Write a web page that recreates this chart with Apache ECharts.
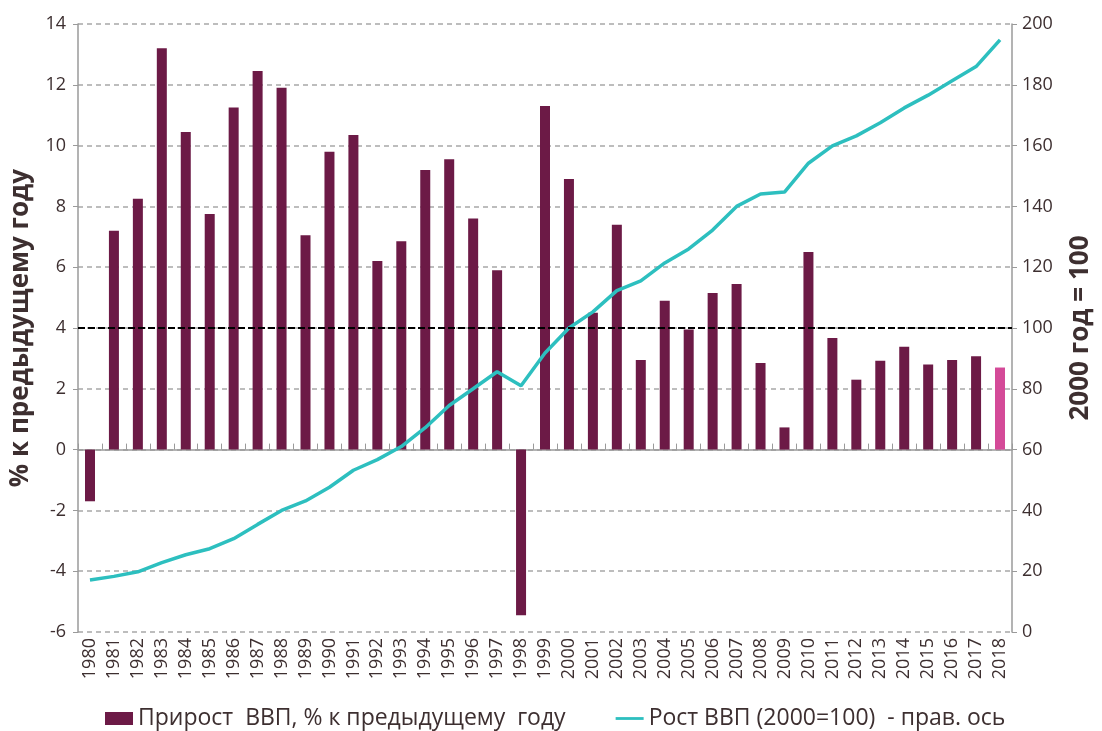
<!DOCTYPE html>
<html>
<head>
<meta charset="utf-8">
<script src="https://cdn.jsdelivr.net/npm/echarts@6/dist/echarts.min.js"></script>
<style>
  html, body { margin: 0; padding: 0; background: #fff; }
  #chart { width: 1102px; height: 731px; }
</style>
</head>
<body>
<div id="chart"></div>
<script>
// годы
const years = ['1980', '1981', '1982', '1983', '1984', '1985', '1986', '1987', '1988', '1989',
  '1990', '1991', '1992', '1993', '1994', '1995', '1996', '1997', '1998', '1999',
  '2000', '2001', '2002', '2003', '2004', '2005', '2006', '2007', '2008', '2009',
  '2010', '2011', '2012', '2013', '2014', '2015', '2016', '2017', '2018'];

// прирост ВВП, % к предыдущему году
const growth = [-1.7, 7.2, 8.25, 13.2, 10.45, 7.75, 11.25, 12.45, 11.9, 7.05,
  9.8, 10.35, 6.2, 6.85, 9.2, 9.55, 7.6, 5.9, -5.45, 11.3,
  8.9, 4.5, 7.4, 2.95, 4.9, 3.95, 5.15, 5.45, 2.85, 0.73,
  6.5, 3.67, 2.3, 2.92, 3.38, 2.8, 2.95, 3.07, 2.7];

// рост ВВП (2000=100)
const index2000 = [17.1, 18.3, 19.8, 22.8, 25.4, 27.4, 30.7, 35.4, 40.0, 43.1,
  47.6, 53.2, 56.7, 61.0, 67.2, 74.5, 80.0, 85.6, 81.0, 91.8,
  100, 105.3, 112.3, 115.5, 121.4, 126.0, 132.2, 140.0, 144.1, 144.7,
  154.2, 159.9, 163.2, 167.5, 172.4, 176.6, 181.3, 186.0, 194.8];

const leftTicks = { min: -6, max: 14, interval: 2 };
const rightTicks = { min: 0, max: 200, interval: 20 };

const textColor = '#3d2f30';
const font = 'Open Sans';

const myChart = echarts.init(document.getElementById('chart'));
myChart.setOption({
  animation: false,
  textStyle: { fontFamily: font },
  grid: { left: 73, right: 84, top: 24, bottom: 99, containLabel: false },
  legend: {
    bottom: -4,
    left: 100,
    itemGap: 50,
    itemWidth: 28,
    itemHeight: 13,
    textStyle: { fontSize: 23, color: textColor, fontFamily: font },
    data: [
      { name: 'Прирост  ВВП, % к предыдущему  году', icon: 'rect' },
      { name: 'Рост ВВП (2000=100)  - прав. ось', icon: 'path://M0 0H10V1H0Z' }
    ]
  },
  xAxis: [
    {
      type: 'category',
      data: years,
      position: 'bottom',
      axisLine: { show: false, onZero: false },
      axisTick: { show: false },
      axisLabel: { rotate: 90, interval: 0, fontSize: 18, color: textColor, margin: 6 }
    },
    {
      type: 'category',
      data: years,
      axisLine: { show: true, onZero: true, lineStyle: { color: '#9a9a9a', width: 1.5 } },
      axisTick: { show: true, interval: 0, length: 6, lineStyle: { color: '#9a9a9a' } },
      axisLabel: { show: false }
    }
  ],
  yAxis: [
    {
      type: 'value',
      min: leftTicks.min,
      max: leftTicks.max,
      interval: leftTicks.interval,
      name: '% к предыдущему году',
      nameLocation: 'middle',
      nameGap: 44,
      nameTextStyle: { fontSize: 26, fontWeight: 'bold', color: textColor, fontFamily: font },
      axisLine: { show: true, lineStyle: { color: '#9a9a9a', width: 1.5 } },
      axisTick: { show: true, length: 5, lineStyle: { color: '#9a9a9a' } },
      axisLabel: { fontSize: 18, color: textColor, margin: 12 },
      splitLine: { show: true, lineStyle: { color: '#a8a8a8', type: [5, 4], width: 1.5 } }
    },
    {
      type: 'value',
      min: rightTicks.min,
      max: rightTicks.max,
      interval: rightTicks.interval,
      name: '2000 год = 100',
      nameLocation: 'middle',
      nameGap: 56,
      nameTextStyle: { fontSize: 26, fontWeight: 'bold', color: textColor, fontFamily: font },
      axisLine: { show: true, lineStyle: { color: '#9a9a9a', width: 1.5 } },
      axisTick: { show: true, length: 5, lineStyle: { color: '#9a9a9a' } },
      axisLabel: { fontSize: 18, color: textColor, margin: 10 },
      splitLine: { show: false }
    }
  ],
  series: [
    {
      name: 'Прирост  ВВП, % к предыдущему  году',
      type: 'bar',
      xAxisIndex: 0,
      yAxisIndex: 0,
      barWidth: 10,
      data: growth.map((v, i) => i === growth.length - 1
        ? { value: v, itemStyle: { color: '#d44a98' } }
        : v),
      itemStyle: { color: '#6c1a46' },
      markLine: {
        silent: true,
        symbol: 'none',
        label: { show: false },
        lineStyle: { color: '#000', type: [7, 3], width: 2 },
        data: [{ yAxis: 4 }]
      }
    },
    {
      name: 'Рост ВВП (2000=100)  - прав. ось',
      type: 'line',
      xAxisIndex: 0,
      yAxisIndex: 1,
      data: index2000,
      showSymbol: false,
      symbol: 'none',
      itemStyle: { color: '#2dbfbf' },
      lineStyle: { color: '#2dbfbf', width: 3.5 },
      z: 3
    }
  ]
});
</script>
</body>
</html>
